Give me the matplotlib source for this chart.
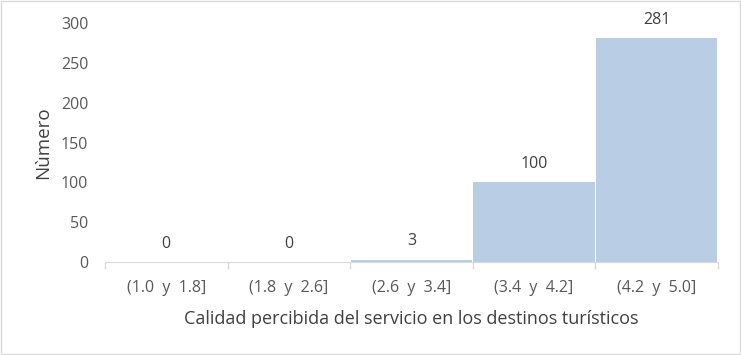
import matplotlib
matplotlib.use("Agg")
import matplotlib.pyplot as plt
import numpy as np

categories = ["(1.0  y  1.8]", "(1.8  y  2.6]", "(2.6  y  3.4]", "(3.4  y  4.2]", "(4.2  y  5.0]"]
counts = [0, 0, 3, 100, 281]

TEXT = "#595959"
plt.rcParams["font.family"] = ["Open Sans", "DejaVu Sans"]

fig = plt.figure(figsize=(7.41, 3.55), dpi=100)
ax = fig.add_axes([0.1417, 0.262, 0.827, 0.673])

x = np.arange(len(categories))
ax.bar(x, counts, width=0.99, color="#B9CDE5", edgecolor="none")
for xi, v in zip(x, counts):
    ax.text(xi, v + 13, str(v), ha="center", va="bottom", fontsize=11.5, color="#404040")

ax.set_xlim(-0.5, len(categories) - 0.5)
ax.set_ylim(0, 300)
ax.set_yticks(range(0, 301, 50))
ax.set_xticks(x)
ax.set_xticklabels(categories)
ax.set_xticks(np.arange(-0.5, len(categories), 1), minor=True)
ax.tick_params(axis="x", which="major", length=0, pad=13, labelsize=11.5, labelcolor=TEXT)
ax.tick_params(axis="x", which="minor", length=5, color="#D9D9D9", width=1)
ax.tick_params(axis="y", length=0, pad=12, labelsize=11.5, labelcolor=TEXT)
for s in ["top", "right", "left"]:
    ax.spines[s].set_visible(False)
ax.spines["bottom"].set_color("#D9D9D9")
ax.set_ylabel("Nùmero", fontsize=13.5, color="#404040", labelpad=6)
ax.set_xlabel("Calidad percibida del servicio en los destinos turísticos", fontsize=13, color="#404040", labelpad=10)

fig.patches.append(plt.Rectangle((0.001, 0.002), 0.997, 0.995, transform=fig.transFigure,
                                 fill=False, edgecolor="#D9D9D9", linewidth=1))
fig.savefig("out.png", dpi=100)
